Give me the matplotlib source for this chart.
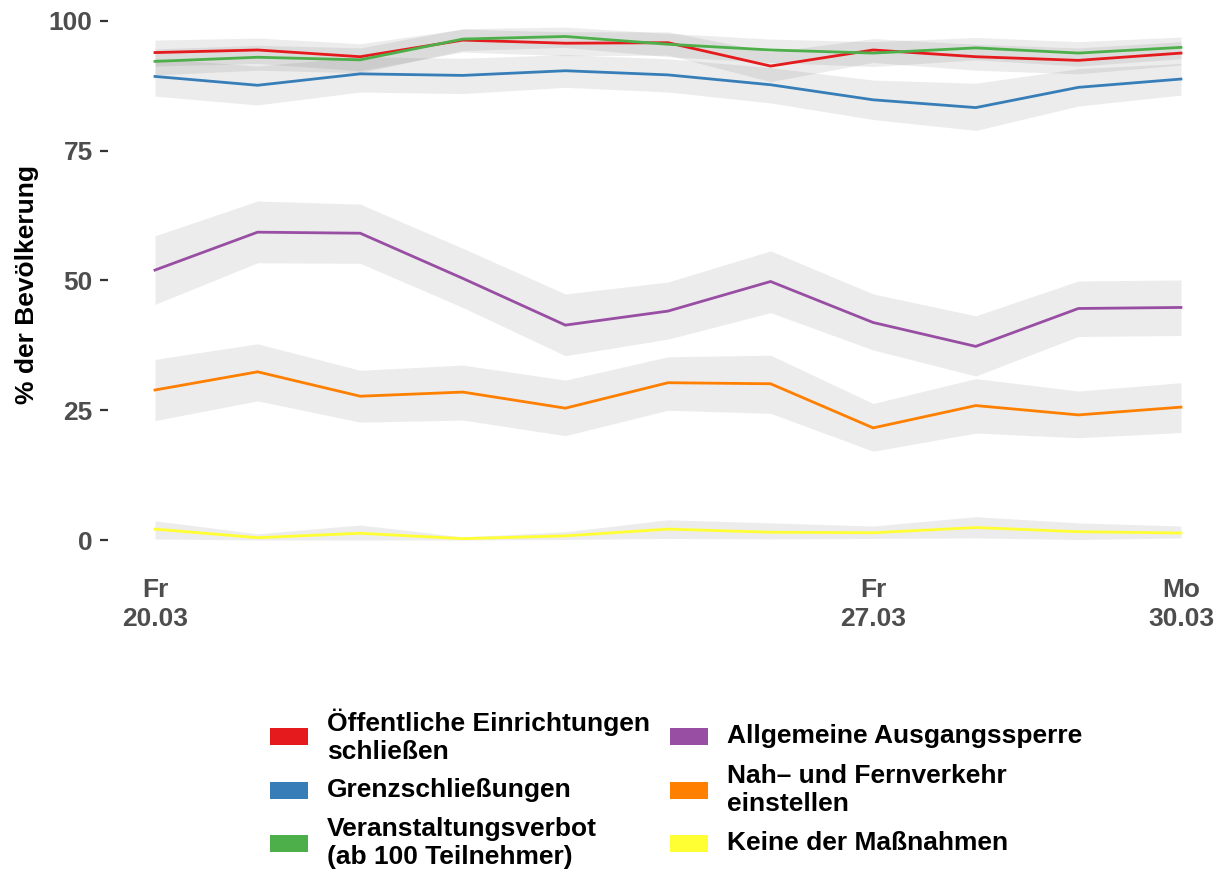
import numpy as np
import matplotlib
matplotlib.use("Agg")
import matplotlib.pyplot as plt
from matplotlib.patches import Rectangle

# ---------------- data ----------------
days = np.arange(11)  # 20.03 .. 30.03.2020
tick_pos = [0, 7, 10]
tick_labels = ["Fr\n20.03", "Fr\n27.03", "Mo\n30.03"]
y_ticks = [0, 25, 50, 75, 100]

labels = ["Öffentliche Einrichtungen\nschließen",
          "Grenzschließungen",
          "Veranstaltungsverbot\n(ab 100 Teilnehmer)",
          "Allgemeine Ausgangssperre",
          "Nah– und Fernverkehr\neinstellen",
          "Keine der Maßnahmen"]
colors = ["#E41A1C", "#377EB8", "#4DAF4A", "#984EA3", "#FF7F00", "#FFFF33"]

oeff = [93.9, 94.4, 93.1, 96.3, 95.7, 95.8, 91.3, 94.4, 93.1, 92.4, 93.8]
oeff_lo = [91.3, 91.8, 90.4, 94.0, 93.3, 93.4, 88.3, 92.0, 90.5, 89.8, 91.5]
oeff_hi = [96.3, 96.7, 95.6, 98.4, 97.9, 97.9, 94.0, 96.6, 95.5, 94.8, 96.0]

grenz = [89.3, 87.6, 89.8, 89.5, 90.4, 89.6, 87.7, 84.8, 83.3, 87.2, 88.8]
grenz_lo = [85.5, 83.8, 86.3, 86.0, 87.2, 86.3, 84.2, 81.0, 78.9, 83.6, 85.7]
grenz_hi = [92.8, 91.3, 93.1, 92.8, 93.5, 92.7, 91.0, 88.6, 88.0, 90.8, 91.8]

veran = [92.2, 93.0, 92.5, 96.5, 97.0, 95.5, 94.4, 93.8, 94.8, 93.8, 94.9]
veran_lo = [89.6, 90.5, 90.0, 94.3, 94.9, 93.1, 92.0, 91.2, 92.5, 91.3, 92.7]
veran_hi = [94.6, 95.3, 94.8, 98.5, 98.8, 97.6, 96.5, 96.0, 96.8, 96.0, 96.9]

ausgang = [52.0, 59.3, 59.1, 50.4, 41.4, 44.1, 49.8, 41.9, 37.3, 44.6, 44.8]
ausgang_lo = [45.4, 53.4, 53.3, 44.8, 35.5, 38.7, 43.8, 36.6, 31.6, 39.2, 39.4]
ausgang_hi = [58.6, 65.3, 64.7, 56.2, 47.4, 49.7, 55.7, 47.4, 43.2, 49.9, 50.1]

verkehr = [28.9, 32.4, 27.7, 28.5, 25.4, 30.3, 30.1, 21.6, 25.9, 24.1, 25.6]
verkehr_lo = [23.0, 26.8, 22.7, 23.1, 20.1, 25.0, 24.4, 17.1, 20.6, 19.7, 20.7]
verkehr_hi = [34.8, 37.8, 32.7, 33.7, 30.8, 35.3, 35.6, 26.3, 31.1, 28.7, 30.3]

keine = [2.1, 0.45, 1.3, 0.26, 0.8, 2.1, 1.5, 1.4, 2.4, 1.6, 1.35]
keine_lo = [0.2, 0.0, 0.0, 0.0, 0.1, 0.3, 0.2, 0.3, 0.4, 0.1, 0.4]
keine_hi = [3.7, 1.2, 2.9, 0.6, 1.6, 3.9, 3.3, 2.7, 4.5, 3.3, 2.7]

series = [oeff, grenz, veran, ausgang, verkehr, keine]
lows = [oeff_lo, grenz_lo, veran_lo, ausgang_lo, verkehr_lo, keine_lo]
highs = [oeff_hi, grenz_hi, veran_hi, ausgang_hi, verkehr_hi, keine_hi]

# ---------------- figure ----------------
plt.rcParams['font.family'] = ['Liberation Sans', 'DejaVu Sans']
plt.rcParams['font.weight'] = 'bold'
W, H = 1222, 873
fig = plt.figure(figsize=(W / 100, H / 100), dpi=100)

def fx(x):
    return x / W

def fy(y):
    return 1 - y / H

FS = 19
ax_l, ax_r, ax_t, ax_b = 108, 1222, 10, 560
ax = fig.add_axes([fx(ax_l), fy(ax_b), fx(ax_r - ax_l), (ax_b - ax_t) / H])
ax.set_xlim(-0.458, 10.4)
ax.set_ylim(-3.85, 102.1)

for lo, hi in zip(lows, highs):
    ax.fill_between(days, lo, hi, color="#4B4B4B", alpha=0.1, linewidth=0)
for s, c in zip(series, colors):
    ax.plot(days, s, color=c, linewidth=2.0, solid_joinstyle='miter')

for sp in ax.spines.values():
    sp.set_visible(False)
ax.set_xticks(tick_pos)
ax.set_xticklabels(tick_labels, fontsize=FS, fontweight='bold', color="#4D4D4D",
                   linespacing=1.25)
ax.set_yticks(y_ticks)
ax.set_yticklabels([str(v) for v in y_ticks], fontsize=FS, fontweight='bold',
                   color="#4D4D4D")
ax.tick_params(axis='x', length=0, pad=13)
ax.tick_params(axis='y', length=6, width=1.6, color="#333333", pad=5)
ax.set_ylabel("% der Bevölkerung", fontsize=FS, fontweight='bold', color="black")
ax.yaxis.set_label_coords((39 - ax_l) / (ax_r - ax_l), 0.5)

# ---------------- legend ----------------
col_x = [270, 670]
row_y = [736, 790, 843]
key_w, key_h = 38, 17
for i, (lab, c) in enumerate(zip(labels, colors)):
    col, row = divmod(i, 3)
    x0 = col_x[col]
    yc = row_y[row]
    fig.add_artist(Rectangle((fx(x0), fy(yc + key_h / 2)), key_w / W, key_h / H,
                             transform=fig.transFigure, facecolor=c,
                             edgecolor='none'))
    fig.text(fx(x0 + 57), fy(yc), lab, fontsize=FS, fontweight='bold',
             color='black', va='center', ha='left', linespacing=1.22)

fig.savefig("out.png", dpi=100)
